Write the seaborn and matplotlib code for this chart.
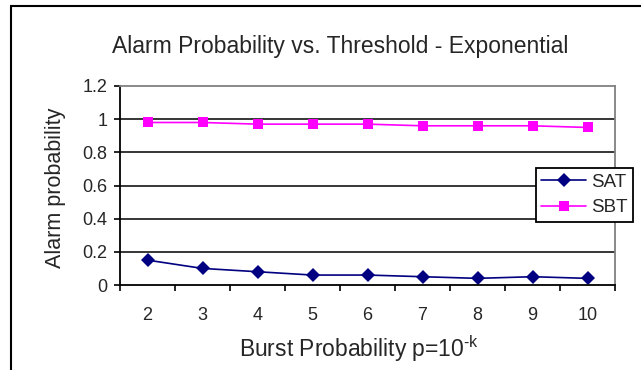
import matplotlib
matplotlib.use("Agg")
import matplotlib.pyplot as plt
import seaborn as sns
import pandas as pd
from matplotlib.patches import Rectangle

k_values = [2, 3, 4, 5, 6, 7, 8, 9, 10]
sat = [0.15, 0.10, 0.08, 0.06, 0.06, 0.05, 0.04, 0.05, 0.04]
sbt = [0.98, 0.98, 0.97, 0.97, 0.97, 0.96, 0.96, 0.96, 0.95]
y_ticks = [0, 0.2, 0.4, 0.6, 0.8, 1, 1.2]
y_tick_labels = ["0", "0.2", "0.4", "0.6", "0.8", "1", "1.2"]

sns.set_theme(style="white")
plt.rcParams['font.family'] = ['Liberation Sans', 'DejaVu Sans']
plt.rcParams['mathtext.fontset'] = 'custom'
plt.rcParams['mathtext.rm'] = 'Liberation Sans'

df = pd.DataFrame({
    "k": k_values * 2,
    "value": sat + sbt,
    "series": ["SAT"] * len(k_values) + ["SBT"] * len(k_values),
})

fig = plt.figure(figsize=(6.41, 3.70), dpi=100)
ax = fig.add_axes([120/641, 1-285/370, 495/641, 199/370])

sns.lineplot(data=df, x="k", y="value", hue="series", style="series",
             palette={"SAT": "#000080", "SBT": "#FF00FF"},
             markers={"SAT": "D", "SBT": "s"}, dashes=False,
             markersize=7.2, markeredgewidth=0, linewidth=1.2, ax=ax)

ax.set_xlim(1.5, 10.5)
ax.set_ylim(0, 1.2)
ax.set_xticks(k_values)
ax.set_xticklabels([str(k) for k in k_values], fontsize=13)
ax.set_xticks([x + 0.5 for x in [1] + k_values], minor=True)
ax.tick_params(axis='x', which='major', length=0, pad=15.5)
ax.tick_params(axis='x', which='minor', length=4, width=1.2, color='black', direction='out', bottom=True)
ax.set_yticks(y_ticks)
ax.set_yticklabels(y_tick_labels, fontsize=13)
ax.tick_params(axis='y', length=4, width=1.2, color='black', direction='out', left=True, pad=5)

for y in y_ticks[1:-1]:
    ax.axhline(y, color='black', linewidth=1.1, zorder=0)

for side in ['left', 'bottom']:
    ax.spines[side].set_color('black')
    ax.spines[side].set_linewidth(1.3)
for side in ['top', 'right']:
    ax.spines[side].set_color('#808080')
    ax.spines[side].set_linewidth(1.3)

ax.set_xlabel("")
ax.set_ylabel("")
fig.text(340/641, 1-47/370, "Alarm Probability vs. Threshold - Exponential",
         fontsize=16.5, ha='center', va='center')
fig.text(359/641, 1-357/370, "Burst Probability p=10$^{\\mathregular{\\text{-}k}}$",
         fontsize=16.5, ha='center', va='baseline')
fig.text(56/641, 1-188/370, "Alarm probability", rotation=90,
         fontsize=15.5, ha='center', va='center')

leg = ax.legend(loc='upper left', bbox_to_anchor=(0.840, 0.588), borderaxespad=0,
                frameon=True, fancybox=False, fontsize=13.5, handlelength=2.4,
                borderpad=0.3, labelspacing=0.45, handletextpad=0.25)
leg.get_frame().set_edgecolor('black')
leg.get_frame().set_linewidth(1.3)
leg.get_frame().set_alpha(1)
leg.set_title(None)

fig.add_artist(Rectangle((11/641, -0.1), 1.2, 1.1 - 6/370, transform=fig.transFigure,
                         fill=False, edgecolor='black', linewidth=1.5))

fig.savefig("out.png", dpi=100)
